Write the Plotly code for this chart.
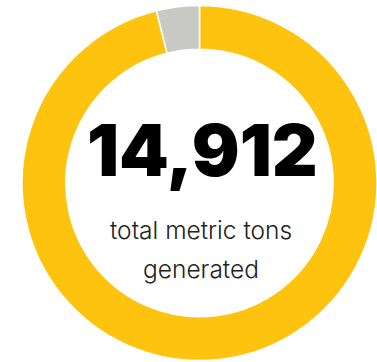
import plotly.graph_objects as go

labels = ["Generated", "Other"]
values = [96.1, 3.9]
colors = ["#FEC30E", "#C8C8C4"]
total_label = "14,912"
subtitle_lines = ["total metric tons", "generated"]

fig = go.Figure(go.Pie(
    labels=labels,
    values=values,
    hole=0.753,
    sort=False,
    direction="clockwise",
    rotation=0,
    marker=dict(colors=colors, line=dict(color="white", width=1.5)),
    textinfo="none",
    hoverinfo="skip",
    showlegend=False,
    domain=dict(x=[22/377, 1], y=[1.5/362, 356.5/362]),
))

fig.add_annotation(
    text=total_label, x=202/377, y=1-150/362, xref="paper", yref="paper",
    showarrow=False, xanchor="center", yanchor="middle",
    font=dict(family="Inter", size=71, color="#000000", weight=900),
)
for txt, yc in zip(subtitle_lines, [229.5, 268.5]):
    fig.add_annotation(
        text=txt, x=201/377, y=1-yc/362, xref="paper", yref="paper",
        showarrow=False, xanchor="center", yanchor="middle",
        font=dict(family="Inter", size=24.5, color="#222222", weight=300),
    )

fig.update_layout(
    width=377, height=362,
    margin=dict(l=0, r=0, t=0, b=0),
    paper_bgcolor="white", plot_bgcolor="white",
)
fig.write_html("out.html", config={"displayModeBar": False},
               post_script="document.body.style.margin='0';document.body.style.overflow='hidden';")
